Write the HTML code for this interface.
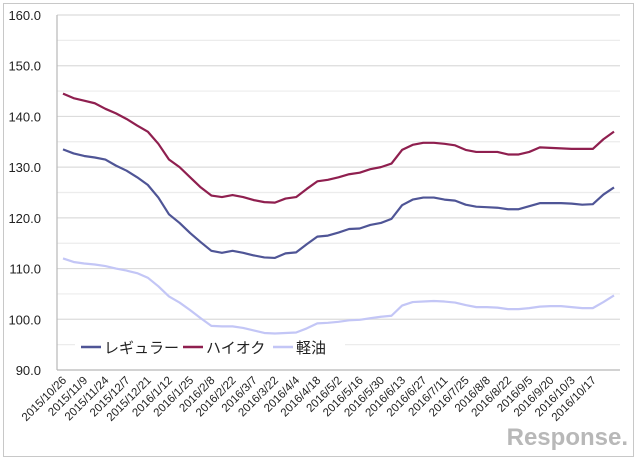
<!DOCTYPE html>
<html><head><meta charset="utf-8"><style>
body{margin:0;background:#fff;}
svg{display:block;font-family:"Liberation Sans","Noto Sans CJK JP",sans-serif;}
</style></head><body>
<svg width="640" height="461">
<rect x="3.5" y="3.5" width="630" height="453" fill="#fff" stroke="#c8c8c8"/>
<g id="grid"></g><g id="yt"></g><g id="xt"></g><g id="series"></g>
<g>
<rect x="75" y="336" width="270" height="22" fill="#fff"/>
<line x1="81" y1="347" x2="101" y2="347" stroke="#4f5596" stroke-width="2.5"/>
<text x="104" y="353" font-size="15" fill="#222">レギュラー</text>
<line x1="183" y1="347" x2="203" y2="347" stroke="#8f1f4f" stroke-width="2.5"/>
<text x="206" y="353" font-size="15" fill="#222">ハイオク</text>
<line x1="273" y1="347" x2="293" y2="347" stroke="#c3c6f6" stroke-width="2.5"/>
<text x="296" y="353" font-size="15" fill="#222">軽油</text>
</g>
<text x="628" y="445" text-anchor="end" font-size="24" font-weight="bold" fill="#b8b8b8">Response.</text>
</svg>
<script>
const labels=["2015/10/26","2015/11/9","2015/11/24","2015/12/7","2015/12/21","2016/1/12","2016/1/25","2016/2/8","2016/2/22","2016/3/7","2016/3/22","2016/4/4","2016/4/18","2016/5/2","2016/5/16","2016/5/30","2016/6/13","2016/6/27","2016/7/11","2016/7/25","2016/8/8","2016/8/22","2016/9/5","2016/9/20","2016/10/3","2016/10/17"];
const yTicks=[90,100,110,120,130,140,150,160];
const regular=[133.5,132.7,132.2,131.9,131.5,130.3,129.3,128.0,126.5,124.0,120.7,119.0,117.0,115.2,113.5,113.1,113.5,113.1,112.6,112.2,112.1,113.0,113.2,114.8,116.3,116.5,117.1,117.8,117.9,118.6,119.0,119.8,122.5,123.6,124.0,124.0,123.6,123.4,122.6,122.2,122.1,122.0,121.7,121.7,122.3,122.9,122.9,122.9,122.8,122.6,122.7,124.6,126.0];
const highOctane=[144.5,143.6,143.1,142.6,141.5,140.6,139.5,138.2,137.0,134.6,131.5,130.0,128.0,126.0,124.4,124.1,124.5,124.1,123.5,123.1,123.0,123.8,124.1,125.7,127.2,127.5,128.0,128.6,128.9,129.6,130.0,130.7,133.4,134.4,134.8,134.8,134.6,134.3,133.4,133.0,133.0,133.0,132.5,132.5,133.0,133.9,133.8,133.7,133.6,133.6,133.6,135.5,137.0];
const diesel=[112.0,111.3,111.0,110.8,110.5,110.0,109.6,109.1,108.2,106.5,104.5,103.3,101.8,100.2,98.7,98.6,98.6,98.3,97.8,97.3,97.2,97.3,97.4,98.2,99.2,99.3,99.5,99.8,99.9,100.2,100.5,100.7,102.7,103.4,103.5,103.6,103.5,103.3,102.8,102.4,102.4,102.3,102.0,102.0,102.2,102.5,102.6,102.6,102.4,102.2,102.2,103.4,104.7];
const NS="http://www.w3.org/2000/svg";
const X0=57,X1=620,Y0=370,Y1=15,ymin=90,ymax=160;
const n=regular.length,px0=63,px1=614;
const xs=i=>px0+(px1-px0)*i/(n-1);
const ys=v=>Y0-(v-ymin)/(ymax-ymin)*(Y0-Y1);
function mk(t,a,p){const e=document.createElementNS(NS,t);for(const k in a)e.setAttribute(k,a[k]);p.appendChild(e);return e;}
const grid=document.getElementById('grid');
for(let v=95;v<=160;v+=5){const g=mk('line',{x1:X0,x2:X1,y1:ys(v),y2:ys(v),stroke:v%10?'#ececec':'#dcdcdc','stroke-width':1.2},grid);

}
const ax=mk('line',{x1:X0,x2:X0,y1:Y1,y2:Y0,stroke:'#b8b8b8','stroke-width':1.2},grid);


const bx=mk('line',{x1:X0,x2:X1,y1:Y0,y2:Y0,stroke:'#b8b8b8','stroke-width':1.2},grid);


const yt=document.getElementById('yt');
yTicks.forEach(v=>{const t=mk('text',{x:41,y:ys(v)+5,'text-anchor':'end','font-size':13,fill:'#222'},yt);t.textContent=v.toFixed(1);

});
const xt=document.getElementById('xt');
labels.forEach((l,i)=>{const x=xs(i*2)+4,y=381;const t=mk('text',{x:x,y:y,'text-anchor':'end','font-size':11.5,fill:'#222',transform:`rotate(-45 ${x} ${y})`},xt);t.textContent=l;

});
const sg=document.getElementById('series');
[[regular,'#4f5596','line-regular'],[highOctane,'#8f1f4f','line-high-octane'],[diesel,'#c3c6f6','line-diesel']].forEach(([d,c,nm])=>{
const p=mk('polyline',{points:d.map((v,i)=>xs(i)+','+ys(v)).join(' '),fill:'none',stroke:c,'stroke-width':2.2,'stroke-linejoin':'round'},sg);

});
</script>
</body></html>
